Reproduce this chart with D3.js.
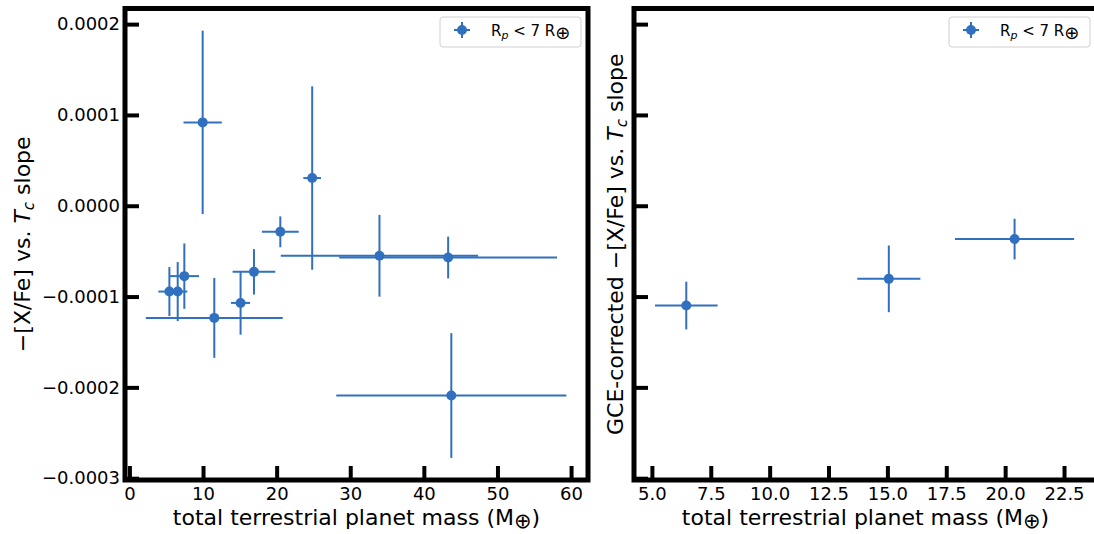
<!DOCTYPE html>
<html><head><meta charset="utf-8">
<script src="https://cdn.jsdelivr.net/npm/d3@7"></script>
<style>
html,body{margin:0;padding:0;background:#fff;}
svg{display:block;font-family:"DejaVu Sans",sans-serif;}
</style></head>
<body>
<svg id="chart" width="1094" height="534"></svg>
<script>
// ---- data ----
const leftMass     = [5.43, 6.56, 7.46, 11.53, 15.1, 16.92, 20.5, 24.83, 33.97, 43.3, 43.73, 9.95];
const leftMassErr  = [1.5, 1.3, 2.0, 9.3, 1.3, 2.9, 2.5, 1.2, 13.4, 14.8, 15.63, 2.6];
const leftSlope    = [-0.945e-4, -0.945e-4, -0.775e-4, -1.235e-4, -1.07e-4, -0.728e-4, -0.287e-4, 0.305e-4, -0.551e-4, -0.57e-4, -2.09e-4, 0.918e-4];
const leftSlopeErr = [0.27e-4, 0.325e-4, 0.36e-4, 0.44e-4, 0.35e-4, 0.25e-4, 0.17e-4, 1.01e-4, 0.45e-4, 0.23e-4, 0.687e-4, 1.01e-4];

const rightMass     = [6.46, 15.06, 20.4];
const rightMassErr  = [1.33, 1.34, 2.53];
const rightSlope    = [-1.099e-4, -0.805e-4, -0.367e-4];
const rightSlopeErr = [0.263e-4, 0.367e-4, 0.224e-4];

const yTicks      = [-0.0003, -0.0002, -0.0001, 0, 0.0001, 0.0002];
const leftXTicks  = [0, 10, 20, 30, 40, 50, 60];
const rightXTicks = [5, 7.5, 10, 12.5, 15, 17.5, 20, 22.5];
const legendLabel = "R";

const COLOR = "#3070bf";
const svg = d3.select("#chart");
const plotTop = 8.5, plotBottom = 480;

const y = d3.scaleLinear().domain([-0.000302, 0.0002172]).range([plotBottom, plotTop]);

function panel(opts) {
  const x = d3.scaleLinear().domain(opts.xDomain).range([opts.x0, opts.x1]);
  const g = svg.append("g");

  // error bars
  const pts = opts.mass.map((m, i) => ({m, me: opts.massErr[i], s: opts.slope[i], se: opts.slopeErr[i]}));
  g.selectAll("line.h").data(pts).join("line")
    .attr("x1", d => x(d.m - d.me)).attr("x2", d => x(d.m + d.me))
    .attr("y1", d => y(d.s)).attr("y2", d => y(d.s))
    .attr("stroke", COLOR).attr("stroke-width", 2);
  g.selectAll("line.v").data(pts).join("line")
    .attr("x1", d => x(d.m)).attr("x2", d => x(d.m))
    .attr("y1", d => y(d.s - d.se)).attr("y2", d => y(d.s + d.se))
    .attr("stroke", COLOR).attr("stroke-width", 2);
  g.selectAll("circle").data(pts).join("circle")
    .attr("cx", d => x(d.m)).attr("cy", d => y(d.s)).attr("r", 5)
    .attr("fill", COLOR);

  // axes (inward ticks)
  const ya = d3.axisLeft(y).tickValues(yTicks).tickSizeInner(-14).tickSizeOuter(0).tickPadding(5)
    .tickFormat(opts.yLabels ? d3.format(".4f") : () => "");
  const yg = g.append("g").attr("transform", `translate(${opts.x0},0)`).call(ya);
  const xa = d3.axisBottom(x).tickValues(opts.xTicks).tickSizeInner(-14).tickSizeOuter(0).tickPadding(7)
    .tickFormat(opts.xFmt);
  const xg = g.append("g").attr("transform", `translate(0,${plotBottom})`).call(xa);
  [yg, xg].forEach(a => {
    a.select(".domain").remove();
    a.selectAll(".tick line").attr("stroke", "#000").attr("stroke-width", 4);
    a.selectAll(".tick text").attr("fill", "#000").style("font-size", "18px").style("font-family", "DejaVu Sans");
  });

  // spines
  g.append("rect").attr("x", opts.x0).attr("y", plotTop).attr("width", opts.x1 - opts.x0).attr("height", plotBottom - plotTop)
    .attr("fill", "none").attr("stroke", "#000").attr("stroke-width", 5);

  // x label
  const xl = g.append("text").attr("x", (opts.x0 + opts.x1) / 2).attr("y", 525)
    .attr("text-anchor", "middle").style("font-size", "22px");
  xl.append("tspan").text("total terrestrial planet mass (M");
  xl.append("tspan").attr("dy", 3).style("font-size", "21px").text("\u2295");
  xl.append("tspan").attr("dy", -3).text(")");

  // y label
  const yl = g.append("text").attr("transform", `translate(${opts.yLabelX},${(plotTop + plotBottom) / 2}) rotate(-90)`)
    .attr("text-anchor", "middle").style("font-size", "22px");
  yl.append("tspan").text(opts.yPrefix + "\u2212[X/Fe] vs. ");
  yl.append("tspan").style("font-style", "italic").text("T");
  yl.append("tspan").style("font-style", "italic").style("font-size", "15px").attr("dy", 4).text("c");
  yl.append("tspan").attr("dy", -4).text(" slope");

  // legend
  const lw = 141, lh = 30;
  const lx = opts.x1 - 7 - lw, ly = 17;
  const lg = g.append("g");
  lg.append("rect").attr("x", lx).attr("y", ly).attr("width", lw).attr("height", lh).attr("rx", 3)
    .attr("fill", "#fff").attr("stroke", "#d0d0d0").attr("stroke-width", 1);
  const mx = lx + 22, my = ly + 13;
  lg.append("line").attr("x1", mx - 8).attr("x2", mx + 8).attr("y1", my).attr("y2", my).attr("stroke", COLOR).attr("stroke-width", 2);
  lg.append("line").attr("x1", mx).attr("x2", mx).attr("y1", my - 8).attr("y2", my + 8).attr("stroke", COLOR).attr("stroke-width", 2);
  lg.append("circle").attr("cx", mx).attr("cy", my).attr("r", 5).attr("fill", COLOR);
  const lt = lg.append("text").attr("x", lx + 51).attr("y", ly + 18.5).style("font-size", "15px");
  lt.append("tspan").text(legendLabel);
  lt.append("tspan").style("font-style", "italic").style("font-size", "11px").attr("dy", 3).text("p");
  lt.append("tspan").attr("dy", -3).text(" < 7 R");
  lt.append("tspan").attr("dy", 3).style("font-size", "18px").text("\u2295");
}

panel({
  x0: 125, x1: 588, xDomain: [-0.6, 62.3],
  mass: leftMass, massErr: leftMassErr, slope: leftSlope, slopeErr: leftSlopeErr,
  xTicks: leftXTicks, xFmt: d3.format("d"), yLabels: true,
  yLabelX: 30, yPrefix: ""
});
panel({
  x0: 634, x1: 1097, xDomain: [4.24, 23.9],
  mass: rightMass, massErr: rightMassErr, slope: rightSlope, slopeErr: rightSlopeErr,
  xTicks: rightXTicks, xFmt: d3.format(".1f"), yLabels: false,
  yLabelX: 623, yPrefix: "GCE-corrected "
});
</script>
</body></html>
